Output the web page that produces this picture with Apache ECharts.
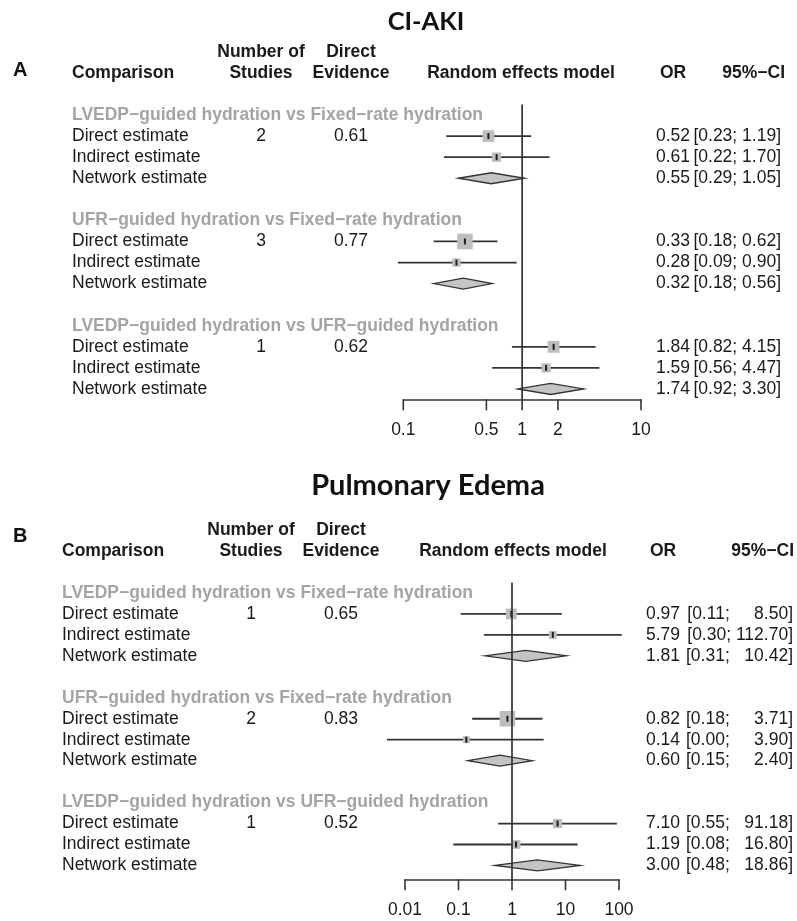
<!DOCTYPE html>
<html>
<head>
<meta charset="utf-8">
<title>Network meta-analysis: CI-AKI and Pulmonary Edema</title>
<script src="https://cdn.jsdelivr.net/npm/echarts@6/dist/echarts.min.js"></script>
<style>
  html, body { margin: 0; padding: 0; background: #ffffff; }
  #chart { width: 797px; height: 921px; }
</style>
</head>
<body>
<div id="chart"></div>
<script>
// ---- Data -------------------------------------------------------------
const comparisons = [
  'LVEDP−guided hydration vs Fixed−rate hydration',
  'UFR−guided hydration vs Fixed−rate hydration',
  'LVEDP−guided hydration vs UFR−guided hydration'
];
const estimateTypes = ['Direct estimate', 'Indirect estimate', 'Network estimate'];

// Panel A: CI-AKI (odds ratios, per comparison: direct, indirect, network)
const akiStudies = [2, 3, 1];
const akiDirectEvidence = [0.61, 0.77, 0.62];
const akiOR    = [[0.52, 0.61, 0.55], [0.33, 0.28, 0.32], [1.84, 1.59, 1.74]];
const akiLower = [[0.23, 0.22, 0.29], [0.18, 0.09, 0.18], [0.82, 0.56, 0.92]];
const akiUpper = [[1.19, 1.70, 1.05], [0.62, 0.90, 0.56], [4.15, 4.47, 3.30]];
const akiTicks = [0.1, 0.5, 1, 2, 10];

// Panel B: Pulmonary Edema
const edemaStudies = [1, 2, 1];
const edemaDirectEvidence = [0.65, 0.83, 0.52];
const edemaOR    = [[0.97, 5.79, 1.81], [0.82, 0.14, 0.60], [7.10, 1.19, 3.00]];
const edemaLower = [[0.11, 0.30, 0.31], [0.18, 0.0046, 0.15], [0.55, 0.08, 0.48]];
const edemaUpper = [[8.50, 112.70, 10.42], [3.71, 3.90, 2.40], [91.18, 16.80, 18.86]];
const edemaTicks = [0.01, 0.1, 1, 10, 100];

// ---- Layout & style -----------------------------------------------------
const WIDTH = 797;
const FONT = '"Liberation Sans", Arial, Helvetica, sans-serif';
const FS = 17.5;
const INK = '#1a1a1a';
const GROUP_INK = '#a4a4a4';
const LINE = '#333333';
const BOX_FILL = '#bdbdbd';
const DIAMOND_FILL = '#c4c4c4';
const BOX_MAX = 15.5;      // side of the heaviest square, px
const DIAMOND_HALF = 5.5;  // half height of the pooled diamond, px
const TICK_LEN = 11;
const FIG_SPACE = '\u2007'; // digit-wide space used to pad CI bounds

const layoutA = {
  title: 'CI-AKI', titleSize: 25.5, letter: 'A', titleX: 426, titleY: 22, letterY: 70,
  rowTop: 104.5, axisY: 399.3, yMax: 13.49,
  plotLeft: 403.3, plotRight: 641, xMin: 0.1, xMax: 10,
  colLabel: 72, colStudies: 261, colEvidence: 351, colModel: 521,
  colOR: 673, colCI: 781, colCIHead: 785
};
const layoutB = {
  title: 'Pulmonary Edema', titleSize: 29, letter: 'B', titleX: 428, titleY: 486, letterY: 536,
  rowTop: 582.5, axisY: 879.3, yMax: 13.66,
  plotLeft: 405, plotRight: 619, xMin: 0.01, xMax: 100,
  colLabel: 62, colStudies: 251, colEvidence: 341, colModel: 513,
  colOR: 663, colCI: 793, colCIHead: 794
};

function fmt2(v) { return v.toFixed(2); }

function textEntries(L, studies, evidence, or, lo, hi) {
  const items = [];
  const bold = 'bold ' + FS + 'px ' + FONT;
  const reg = FS + 'px ' + FONT;
  const head = (x, row, text, align) => items.push({ x, row, text, align, font: bold, fill: INK });
  head(L.colLabel, -2, 'Comparison', 'left');
  head(L.colStudies, -3, 'Number of', 'center');
  head(L.colStudies, -2, 'Studies', 'center');
  head(L.colEvidence, -3, 'Direct', 'center');
  head(L.colEvidence, -2, 'Evidence', 'center');
  head(L.colModel, -2, 'Random effects model', 'center');
  head(L.colOR, -2, 'OR', 'center');
  head(L.colCIHead, -2, '95%−CI', 'right');

  // bounds are padded to a common width, as in the printed table
  let upLen = 0, loLen = 0;
  hi.forEach(g => g.forEach(v => { upLen = Math.max(upLen, fmt2(v).length); }));
  lo.forEach(g => g.forEach(v => { loLen = Math.max(loLen, fmt2(v).length); }));

  comparisons.forEach((name, g) => {
    const base = g * 5;
    items.push({ x: L.colLabel, row: base, text: name, align: 'left', font: bold, fill: GROUP_INK });
    estimateTypes.forEach((lab, k) => {
      const row = base + 1 + k;
      items.push({ x: L.colLabel, row, text: lab, align: 'left', font: reg, fill: INK });
      items.push({ x: L.colOR, row, text: fmt2(or[g][k]), align: 'center', font: reg, fill: INK });
      const ci = '[' + fmt2(lo[g][k]).padStart(loLen, FIG_SPACE) + '; ' +
                 fmt2(hi[g][k]).padStart(upLen, FIG_SPACE) + ']';
      items.push({ x: L.colCI, row, text: ci, align: 'right', font: reg, fill: INK });
    });
    items.push({ x: L.colStudies, row: base + 1, text: String(studies[g]), align: 'center', font: reg, fill: INK });
    items.push({ x: L.colEvidence, row: base + 1, text: fmt2(evidence[g]), align: 'center', font: reg, fill: INK });
  });
  return items;
}

function forestRows(or, lo, hi) {
  const rows = [];
  let maxW = 0;
  comparisons.forEach((_, g) => {
    for (let k = 0; k < 3; k++) {
      // inverse-variance weight from the log-scale CI width; sets the square size
      const se = Math.log(hi[g][k] / lo[g][k]) / (2 * 1.96);
      const w = 1 / (se * se);
      if (k < 2) maxW = Math.max(maxW, w);
      rows.push([or[g][k], lo[g][k], hi[g][k], g * 5 + 1 + k, k === 2 ? 1 : 0, w]);
    }
  });
  return { rows, maxW };
}

function panel(L, studies, evidence, or, lo, hi, ticks, gridBase) {
  const spacing = (L.axisY - L.rowTop) / (L.yMax + 0.5);
  const textTop = L.rowTop - 3 * spacing;
  const grids = [
    { left: 0, top: textTop, width: WIDTH, height: L.axisY - textTop, containLabel: false, outerBoundsMode: 'none' },
    { left: L.plotLeft, top: L.rowTop, width: L.plotRight - L.plotLeft, height: L.axisY - L.rowTop, containLabel: false, outerBoundsMode: 'none' }
  ];
  const xAxes = [
    { gridIndex: gridBase, type: 'value', min: 0, max: WIDTH, show: false },
    {
      gridIndex: gridBase + 1, type: 'log', logBase: 10, min: L.xMin, max: L.xMax,
      axisLine: { show: true, onZero: false, lineStyle: { color: LINE, width: 1.6 } },
      axisTick: { show: false }, axisLabel: { show: false }, splitLine: { show: false }
    }
  ];
  const yAxes = [
    { gridIndex: gridBase, type: 'value', inverse: true, min: -3.5, max: L.yMax, show: false },
    { gridIndex: gridBase + 1, type: 'value', inverse: true, min: -0.5, max: L.yMax, show: false }
  ];

  const items = textEntries(L, studies, evidence, or, lo, hi);
  const forest = forestRows(or, lo, hi);

  const series = [
    {
      type: 'custom', name: L.title + ' table', xAxisIndex: gridBase, yAxisIndex: gridBase,
      clip: false, silent: true,
      data: items.map(it => [it.x, it.row]),
      renderItem: (params, api) => {
        const it = items[params.dataIndex];
        const p = api.coord([api.value(0), api.value(1)]);
        return {
          type: 'text', x: p[0], y: p[1],
          style: { text: it.text, font: it.font, fill: it.fill, align: it.align, verticalAlign: 'middle',
                   textAlign: it.align, textVerticalAlign: 'middle' }
        };
      }
    },
    {
      type: 'line', name: L.title + ' no effect', xAxisIndex: gridBase + 1, yAxisIndex: gridBase + 1,
      data: [[1, -0.5], [1, L.yMax]], symbol: 'none', silent: true,
      lineStyle: { color: LINE, width: 1.7 }
    },
    {
      type: 'custom', name: L.title + ' estimates', xAxisIndex: gridBase + 1, yAxisIndex: gridBase + 1,
      clip: false, silent: true,
      data: forest.rows,
      renderItem: (params, api) => {
        const row = api.value(3);
        const pc = api.coord([api.value(0), row]);
        const pl = api.coord([api.value(1), row]);
        const ph = api.coord([api.value(2), row]);
        const y = pc[1];
        if (api.value(4) === 1) {
          return {
            type: 'polygon',
            shape: { points: [[pl[0], y], [pc[0], y - DIAMOND_HALF], [ph[0], y], [pc[0], y + DIAMOND_HALF]] },
            style: { fill: DIAMOND_FILL, stroke: LINE, lineWidth: 1.3 }
          };
        }
        const s = BOX_MAX * Math.sqrt(api.value(5) / forest.maxW);
        return {
          type: 'group',
          children: [
            { type: 'line', shape: { x1: pl[0], y1: y, x2: ph[0], y2: y }, style: { stroke: LINE, lineWidth: 1.8 } },
            { type: 'rect', shape: { x: pc[0] - s / 2, y: y - s / 2, width: s, height: s }, style: { fill: BOX_FILL } },
            { type: 'rect', shape: { x: pc[0] - 1, y: y - 3, width: 2, height: 6 }, style: { fill: '#1e1e1e' } }
          ]
        };
      }
    },
    {
      type: 'custom', name: L.title + ' ticks', xAxisIndex: gridBase + 1, yAxisIndex: gridBase + 1,
      clip: false, silent: true,
      data: ticks.map(t => [t, L.yMax]),
      renderItem: (params, api) => {
        const v = api.value(0);
        const p = api.coord([v, api.value(1)]);
        return {
          type: 'group',
          children: [
            { type: 'line', shape: { x1: p[0], y1: p[1], x2: p[0], y2: p[1] + TICK_LEN }, style: { stroke: LINE, lineWidth: 1.6 } },
            { type: 'text', x: p[0], y: p[1] + 31,
              style: { text: String(ticks[params.dataIndex]), font: FS + 'px ' + FONT, fill: INK,
                       align: 'center', verticalAlign: 'middle', textAlign: 'center', textVerticalAlign: 'middle' } }
          ]
        };
      }
    }
  ];

  const graphics = [
    { type: 'text', x: L.titleX, y: L.titleY,
      style: { text: L.title, font: 'bold ' + L.titleSize + 'px Lato, "Open Sans", sans-serif', fill: '#111111',
               align: 'center', verticalAlign: 'middle', textAlign: 'center', textVerticalAlign: 'middle' } },
    { type: 'text', x: 13, y: L.letterY,
      style: { text: L.letter, font: 'bold 20px ' + FONT, fill: '#111111',
               align: 'left', verticalAlign: 'middle', textAlign: 'left', textVerticalAlign: 'middle' } }
  ];
  return { grids, xAxes, yAxes, series, graphics };
}

const pA = panel(layoutA, akiStudies, akiDirectEvidence, akiOR, akiLower, akiUpper, akiTicks, 0);
const pB = panel(layoutB, edemaStudies, edemaDirectEvidence, edemaOR, edemaLower, edemaUpper, edemaTicks, 2);

const chart = echarts.init(document.getElementById('chart'), null, { renderer: 'canvas' });
chart.setOption({
  backgroundColor: '#ffffff',
  animation: false,
  grid: pA.grids.concat(pB.grids),
  xAxis: pA.xAxes.concat(pB.xAxes),
  yAxis: pA.yAxes.concat(pB.yAxes),
  series: pA.series.concat(pB.series),
  graphic: pA.graphics.concat(pB.graphics)
});
</script>
</body>
</html>
